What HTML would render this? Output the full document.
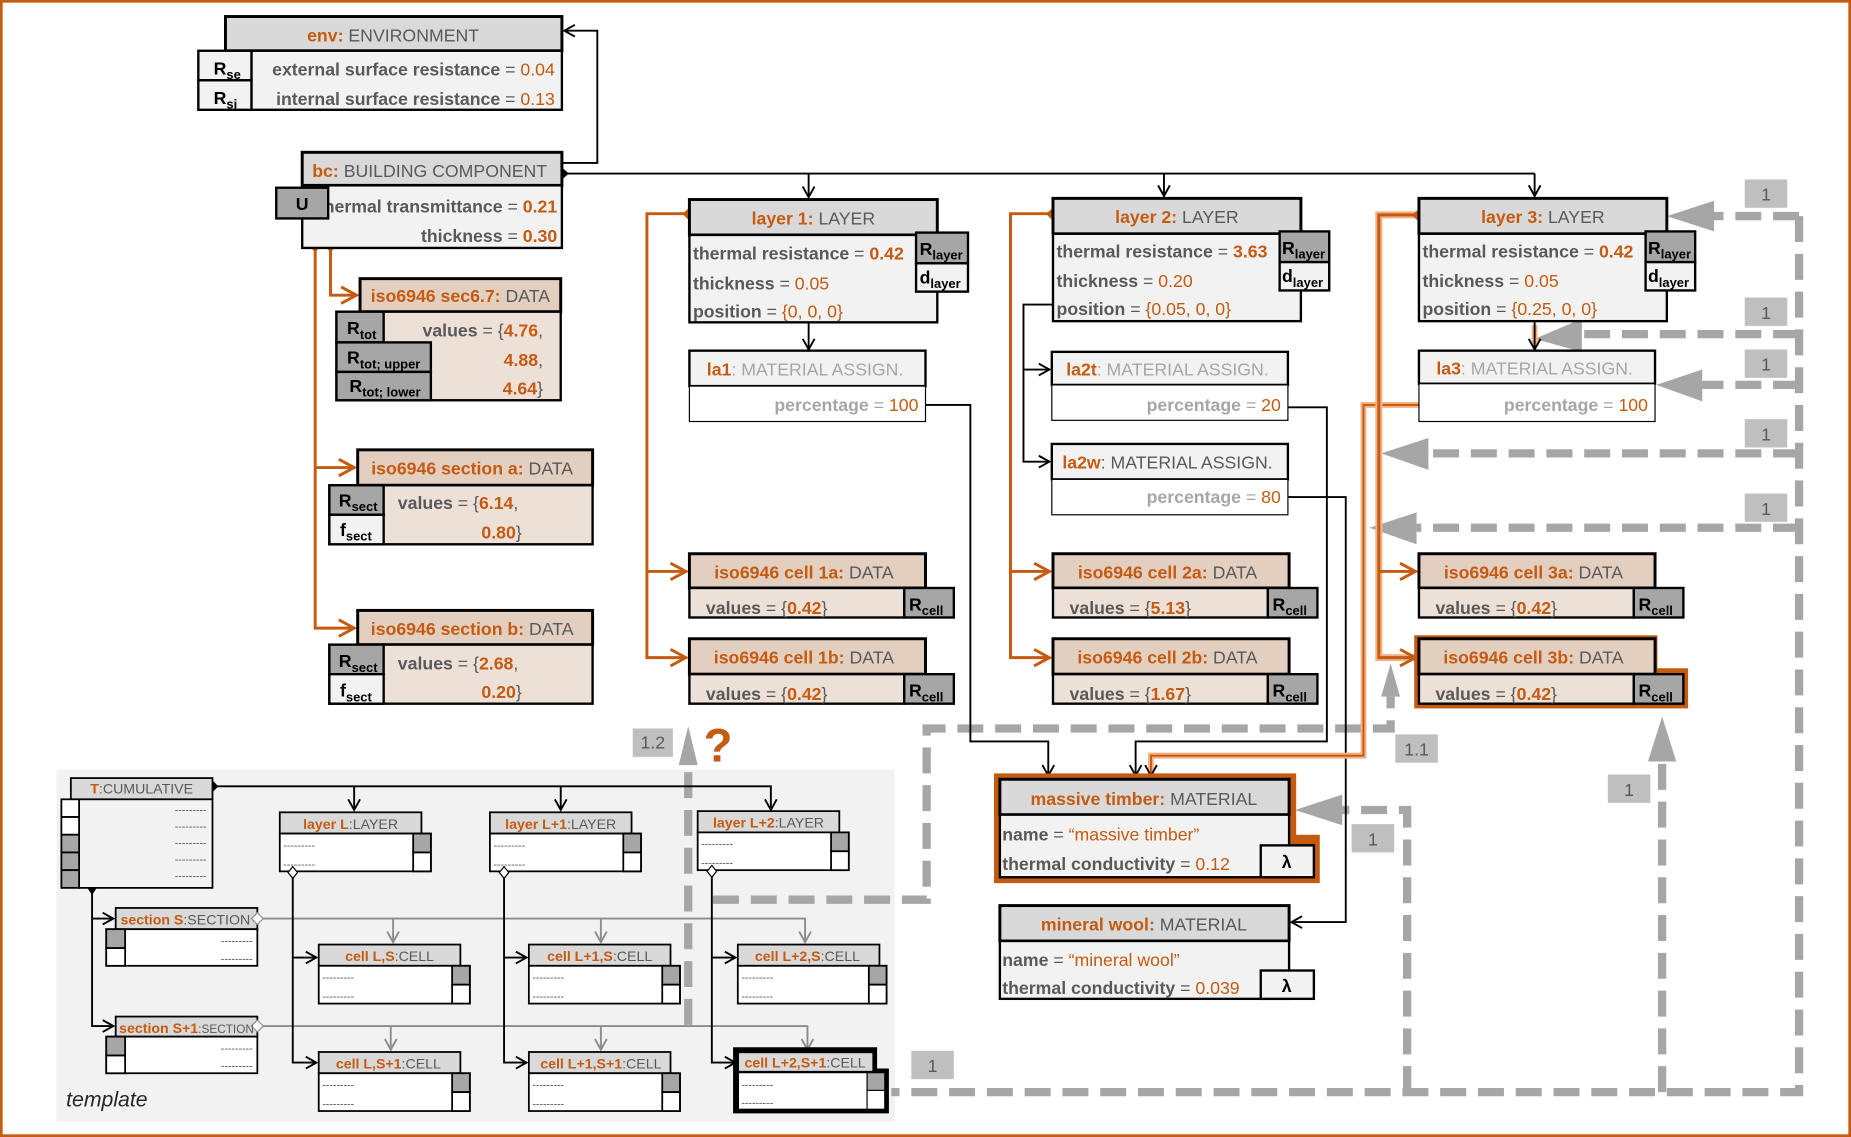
<!DOCTYPE html>
<html><head><meta charset="utf-8"><style>
html,body{margin:0;padding:0;background:#fff}
svg{display:block}
text{font-family:"Liberation Sans",sans-serif;font-size:15px;fill:#595959}
.o{fill:#c55a11}.bo{fill:#c55a11;font-weight:bold}.b{font-weight:bold}.k{fill:#000;font-weight:bold}.lg{fill:#a6a6a6}
.hd{fill:#d9d9d9;stroke:#000;stroke-width:2.5}
.bd{fill:#f2f2f2;stroke:#000;stroke-width:2}
.dh{fill:#e3cfc0;stroke:#000;stroke-width:2.5}
.db{fill:#ede0d7;stroke:#000;stroke-width:2}
.gb{fill:#a6a6a6;stroke:#000;stroke-width:2}
.wb{fill:#f2f2f2;stroke:#000;stroke-width:2}
.ln{fill:none;stroke:#000;stroke-width:1.6}
.gl{fill:none;stroke:#8c8c8c;stroke-width:1.6}
.ol{fill:none;stroke:#c55a11;stroke-width:2.5}
.dl{fill:none;stroke:#a6a6a6;stroke-width:7;stroke-dasharray:22 10}
.ga{fill:#a6a6a6}
.lb{fill:#bfbfbf}
.t{font-size:12px}
.s{font-size:11px}
</style></head><body>
<svg width="1851" height="1137" viewBox="0 0 1568 963" preserveAspectRatio="none" xmlns="http://www.w3.org/2000/svg">
<defs>
<marker id="ar" markerWidth="12" markerHeight="12" refX="10" refY="6" orient="auto" markerUnits="userSpaceOnUse"><path d="M1,1 L10,6 L1,11" fill="none" stroke="#000" stroke-width="1.6"/></marker>
<marker id="ag" markerWidth="12" markerHeight="12" refX="10" refY="6" orient="auto" markerUnits="userSpaceOnUse"><path d="M1,1 L10,6 L1,11" fill="none" stroke="#8c8c8c" stroke-width="1.6"/></marker>
<marker id="ao" markerWidth="16" markerHeight="16" refX="14" refY="8" orient="auto" markerUnits="userSpaceOnUse"><path d="M1,1 L14,8 L1,15" fill="none" stroke="#c55a11" stroke-width="2.5"/></marker>
</defs>
<rect x="1" y="1" width="1566" height="961" fill="none" stroke="#c55a11" stroke-width="2.5"/>

<!-- template background -->
<rect x="48" y="652" width="710" height="298" fill="#f2f2f2"/>

<!-- gray dashed connectors -->
<path class="dl" d="M1524,183 V925 H755"/>
<path class="dl" d="M1524,183 H1450"/><polygon class="ga" points="1412,183 1452,170 1452,196"/>
<path class="dl" d="M1524,283 H1340"/><polygon class="ga" points="1300,287 1340,270 1340,298"/>
<path class="dl" d="M1524,326 H1440"/><polygon class="ga" points="1403,326 1442,313 1442,340"/>
<path class="dl" d="M1524,384 H1210"/><polygon class="ga" points="1170,384 1210,371 1210,398"/>
<path class="dl" d="M1524,447 H1200"/><polygon class="ga" points="1160,447 1200,434 1200,461"/>
<path class="dl" d="M1408,925 V645"/><polygon class="ga" points="1408,607 1396,645 1420,645"/>
<path class="dl" d="M1192,925 V686 H1135"/><polygon class="ga" points="1097,686 1137,673 1137,699"/>
<path class="dl" d="M604,762 H785 V617 H1178 V590"/><polygon class="ga" points="1178,562 1170,590 1186,590"/>
<path class="dl" d="M583,868 V648"/><polygon class="ga" points="583,615 575,648 591,648"/>
<g>
<rect class="lb" x="1478" y="152" width="36" height="24"/><text x="1496" y="170" text-anchor="middle">1</text>
<rect class="lb" x="1478" y="252" width="36" height="24"/><text x="1496" y="270" text-anchor="middle">1</text>
<rect class="lb" x="1478" y="296" width="36" height="24"/><text x="1496" y="314" text-anchor="middle">1</text>
<rect class="lb" x="1478" y="355" width="36" height="24"/><text x="1496" y="373" text-anchor="middle">1</text>
<rect class="lb" x="1478" y="418" width="36" height="24"/><text x="1496" y="436" text-anchor="middle">1</text>
<rect class="lb" x="1145" y="698" width="36" height="24"/><text x="1163" y="716" text-anchor="middle">1</text>
<rect class="lb" x="1362" y="656" width="36" height="24"/><text x="1380" y="674" text-anchor="middle">1</text>
<rect class="lb" x="772" y="890" width="36" height="24"/><text x="790" y="908" text-anchor="middle">1</text>
<rect class="lb" x="1182" y="622" width="36" height="24"/><text x="1200" y="640" text-anchor="middle">1.1</text>
<rect class="lb" x="536" y="617" width="34" height="24"/><text x="553" y="634" text-anchor="middle">1.2</text>
<text x="596" y="645" style="font-size:40px;font-weight:bold;fill:#c55a11">?</text>
</g>

<!-- black connectors -->
<path class="ln" d="M476,138 H506 V26 H478" marker-end="url(#ar)"/>
<path class="ln" d="M478,147 H1300"/>
<path class="ln" d="M685,147 V167" marker-end="url(#ar)"/>
<path class="ln" d="M986,147 V166" marker-end="url(#ar)"/>
<path class="ln" d="M1300,147 V166" marker-end="url(#ar)"/>
<polygon points="470,147 476,142 482,147 476,152" fill="#000"/>
<path class="ln" d="M685,273 V296" marker-end="url(#ar)"/>
<path d="M1300,275 V292" fill="none" stroke="#f4b183" stroke-width="5"/>
<path class="ln" d="M1300,273 V296" marker-end="url(#ar)"/>
<path class="ln" d="M892,258 H867 V391 H889" marker-end="url(#ar)"/>
<path class="ln" d="M867,313 H889" marker-end="url(#ar)"/>
<path class="ln" d="M784,343 H822 V628 H888 V657" marker-end="url(#ar)"/>
<path class="ln" d="M1091,345 H1124 V628 H962 V657" marker-end="url(#ar)"/>
<path class="ln" d="M1091,421 H1140 V781 H1094" marker-end="url(#ar)"/>
<path d="M1202,343 H1155 V640 H975 V657" fill="none" stroke="#f4b183" stroke-width="5"/>
<path class="ln" d="M1202,343 H1155 V640 H975 V657" marker-end="url(#ar)" style="stroke:#c55a11"/>

<!-- orange connectors -->
<path class="ol" d="M280,208 V250 H302" marker-end="url(#ao)"/>
<path class="ol" d="M267,208 V532 H300" marker-end="url(#ao)"/>
<path class="ol" d="M267,396 H300" marker-end="url(#ao)"/>
<polygon points="267,202 272,208 267,214 262,208" fill="#c55a11"/>
<polygon points="280,202 285,208 280,214 275,208" fill="#c55a11"/>
<path class="ol" d="M584,181 H548 V557 H581" marker-end="url(#ao)"/>
<path class="ol" d="M548,484 H581" marker-end="url(#ao)"/>
<path class="ol" d="M892,181 H856 V557 H889" marker-end="url(#ao)"/>
<path class="ol" d="M856,484 H889" marker-end="url(#ao)"/>
<path d="M1202,182 H1168 V557 H1199" fill="none" stroke="#f4b183" stroke-width="6"/>
<path class="ol" d="M1202,182 H1168 V557 H1199" marker-end="url(#ao)"/>
<path class="ol" d="M1168,484 H1199" marker-end="url(#ao)"/>
<polygon points="584,176 590,181 584,187 578,181" fill="#c55a11"/>
<polygon points="892,176 898,181 892,187 886,181" fill="#c55a11"/>
<polygon points="1202,177 1208,182 1202,188 1196,182" fill="#c55a11"/>

<!-- env -->
<rect class="hd" x="191" y="14" width="285" height="29"/>
<text x="333" y="35" text-anchor="middle"><tspan class="bo">env:</tspan> ENVIRONMENT</text>
<rect class="bd" x="213" y="43" width="263" height="50"/>
<rect class="wb" x="168" y="43" width="45" height="25"/><rect class="wb" x="168" y="68" width="45" height="25"/>
<text x="181" y="63" class="k">R<tspan dy="4" class="s">se</tspan></text>
<text x="181" y="88" class="k">R<tspan dy="4" class="s">si</tspan></text>
<text x="470" y="64" text-anchor="end"><tspan class="b">external surface resistance</tspan> = <tspan class="o">0.04</tspan></text>
<text x="470" y="89" text-anchor="end"><tspan class="b">internal surface resistance</tspan> = <tspan class="o">0.13</tspan></text>

<!-- bc -->
<rect class="hd" x="256" y="129" width="220" height="28"/>
<text x="364" y="150" text-anchor="middle"><tspan class="bo">bc:</tspan> BUILDING COMPONENT</text>
<rect class="bd" x="256" y="157" width="220" height="53"/>
<text x="472" y="180" text-anchor="end"><tspan class="b">thermal transmittance</tspan> = <tspan class="bo">0.21</tspan></text>
<text x="472" y="205" text-anchor="end"><tspan class="b">thickness</tspan> = <tspan class="bo">0.30</tspan></text>
<rect class="gb" x="234" y="159" width="44" height="26"/>
<text x="256" y="178" text-anchor="middle" class="k">U</text>

<!-- sec6.7 -->
<rect class="dh" x="305" y="236" width="170" height="28"/>
<text x="390" y="256" text-anchor="middle"><tspan class="bo">iso6946 sec6.7:</tspan> DATA</text>
<rect class="db" x="285" y="264" width="190" height="75"/>
<rect class="gb" x="285" y="264" width="40" height="26"/><rect class="gb" x="285" y="290" width="80" height="25"/><rect class="gb" x="285" y="315" width="80" height="24"/>
<text x="294" y="283" class="k">R<tspan dy="4" class="s">tot</tspan></text>
<text x="294" y="308" class="k">R<tspan dy="4" class="s">tot; upper</tspan></text>
<text x="296" y="332" class="k">R<tspan dy="4" class="s">tot; lower</tspan></text>
<text x="460" y="285" text-anchor="end"><tspan class="b">values</tspan> = {<tspan class="bo">4.76</tspan>,</text>
<text x="460" y="310" text-anchor="end"><tspan class="bo">4.88</tspan>,</text>
<text x="460" y="334" text-anchor="end"><tspan class="bo">4.64</tspan>}</text>

<!-- section a -->
<rect class="dh" x="303" y="381" width="199" height="30"/>
<text x="400" y="402" text-anchor="middle"><tspan class="bo">iso6946 section a:</tspan> DATA</text>
<rect class="db" x="279" y="411" width="223" height="50"/>
<rect class="gb" x="279" y="411" width="46" height="25"/><rect class="wb" x="279" y="436" width="46" height="25"/>
<text x="287" y="429" class="k">R<tspan dy="4" class="s">sect</tspan></text>
<text x="288" y="454" class="k">f<tspan dy="4" class="s">sect</tspan></text>
<text x="337" y="431"><tspan class="b">values</tspan> = {<tspan class="bo">6.14</tspan>,</text>
<text x="442" y="456" text-anchor="end"><tspan class="bo">0.80</tspan>}</text>

<!-- section b -->
<rect class="dh" x="303" y="517" width="199" height="29"/>
<text x="400" y="538" text-anchor="middle"><tspan class="bo">iso6946 section b:</tspan> DATA</text>
<rect class="db" x="279" y="546" width="223" height="50"/>
<rect class="gb" x="279" y="546" width="46" height="25"/><rect class="wb" x="279" y="571" width="46" height="25"/>
<text x="287" y="565" class="k">R<tspan dy="4" class="s">sect</tspan></text>
<text x="288" y="590" class="k">f<tspan dy="4" class="s">sect</tspan></text>
<text x="337" y="567"><tspan class="b">values</tspan> = {<tspan class="bo">2.68</tspan>,</text>
<text x="442" y="591" text-anchor="end"><tspan class="bo">0.20</tspan>}</text>

<!-- layer 1 -->
<rect class="hd" x="584" y="169" width="210" height="30"/>
<text x="689" y="190" text-anchor="middle"><tspan class="bo">layer 1:</tspan> LAYER</text>
<rect class="bd" x="584" y="199" width="210" height="74"/>
<text x="587" y="220"><tspan class="b">thermal resistance</tspan> = <tspan class="bo">0.42</tspan></text>
<text x="587" y="245"><tspan class="b">thickness</tspan> = <tspan class="o">0.05</tspan></text>
<text x="587" y="269"><tspan class="b">position</tspan>  = <tspan class="o">{0, 0, 0}</tspan></text>
<rect class="gb" x="776" y="197" width="44" height="26"/><rect class="wb" x="776" y="223" width="44" height="24"/>
<text x="779" y="216" class="k">R<tspan dy="4" class="s">layer</tspan></text>
<text x="779" y="240" class="k">d<tspan dy="4" class="s">layer</tspan></text>
<!-- la1 -->
<rect class="bd" x="584" y="297" width="200" height="30"/>
<text x="682" y="318" text-anchor="middle" class="lg"><tspan class="bo">la1</tspan><tspan class="lg">: MATERIAL ASSIGN.</tspan></text>
<rect x="584" y="327" width="200" height="30" fill="#fff" stroke="#000" stroke-width="1"/>
<text x="778" y="348" text-anchor="end"><tspan class="b lg">percentage</tspan><tspan class="lg"> = </tspan><tspan class="o">100</tspan></text>
<!-- cell 1a/1b -->
<rect class="dh" x="584" y="469" width="200" height="29"/>
<text x="681" y="490" text-anchor="middle"><tspan class="bo">iso6946 cell 1a:</tspan> DATA</text>
<rect class="db" x="584" y="498" width="182" height="25"/><rect class="gb" x="766" y="498" width="42" height="25"/>
<text x="598" y="520"><tspan class="b">values</tspan> = {<tspan class="bo">0.42</tspan>}</text>
<text x="770" y="517" class="k">R<tspan dy="4" class="s">cell</tspan></text>
<rect class="dh" x="584" y="541" width="200" height="30"/>
<text x="681" y="562" text-anchor="middle"><tspan class="bo">iso6946 cell 1b:</tspan> DATA</text>
<rect class="db" x="584" y="571" width="182" height="25"/><rect class="gb" x="766" y="571" width="42" height="25"/>
<text x="598" y="593"><tspan class="b">values</tspan> = {<tspan class="bo">0.42</tspan>}</text>
<text x="770" y="590" class="k">R<tspan dy="4" class="s">cell</tspan></text>

<!-- layer 2 -->
<rect class="hd" x="892" y="168" width="210" height="30"/>
<text x="997" y="189" text-anchor="middle"><tspan class="bo">layer 2:</tspan> LAYER</text>
<rect class="bd" x="892" y="198" width="210" height="74"/>
<text x="895" y="218"><tspan class="b">thermal resistance</tspan> = <tspan class="bo">3.63</tspan></text>
<text x="895" y="243"><tspan class="b">thickness</tspan> = <tspan class="o">0.20</tspan></text>
<text x="895" y="267"><tspan class="b">position</tspan>  = <tspan class="o">{0.05, 0, 0}</tspan></text>
<rect class="gb" x="1084" y="196" width="42" height="26"/><rect class="wb" x="1084" y="222" width="42" height="24"/>
<text x="1086" y="215" class="k">R<tspan dy="4" class="s">layer</tspan></text>
<text x="1086" y="239" class="k">d<tspan dy="4" class="s">layer</tspan></text>
<!-- la2t -->
<rect class="bd" x="891" y="298" width="200" height="28"/>
<text x="989" y="318" text-anchor="middle"><tspan class="bo">la2t</tspan><tspan class="lg">: MATERIAL ASSIGN.</tspan></text>
<rect x="891" y="326" width="200" height="30" fill="#fff" stroke="#000" stroke-width="1"/>
<text x="1085" y="348" text-anchor="end"><tspan class="b lg">percentage</tspan><tspan class="lg"> = </tspan><tspan class="o">20</tspan></text>
<!-- la2w -->
<rect class="bd" x="891" y="376" width="200" height="30"/>
<text x="989" y="397" text-anchor="middle"><tspan class="bo">la2w</tspan>: MATERIAL ASSIGN.</text>
<rect x="891" y="406" width="200" height="30" fill="#fff" stroke="#000" stroke-width="1"/>
<text x="1085" y="426" text-anchor="end"><tspan class="b lg">percentage</tspan><tspan class="lg"> = </tspan><tspan class="o">80</tspan></text>
<!-- cell 2a/2b -->
<rect class="dh" x="892" y="469" width="200" height="29"/>
<text x="989" y="490" text-anchor="middle"><tspan class="bo">iso6946 cell 2a:</tspan> DATA</text>
<rect class="db" x="892" y="498" width="182" height="25"/><rect class="gb" x="1074" y="498" width="42" height="25"/>
<text x="906" y="520"><tspan class="b">values</tspan> = {<tspan class="bo">5.13</tspan>}</text>
<text x="1078" y="517" class="k">R<tspan dy="4" class="s">cell</tspan></text>
<rect class="dh" x="892" y="541" width="200" height="30"/>
<text x="989" y="562" text-anchor="middle"><tspan class="bo">iso6946 cell 2b:</tspan> DATA</text>
<rect class="db" x="892" y="571" width="182" height="25"/><rect class="gb" x="1074" y="571" width="42" height="25"/>
<text x="906" y="593"><tspan class="b">values</tspan> = {<tspan class="bo">1.67</tspan>}</text>
<text x="1078" y="590" class="k">R<tspan dy="4" class="s">cell</tspan></text>

<!-- layer 3 -->
<rect class="hd" x="1202" y="168" width="210" height="30"/>
<text x="1307" y="189" text-anchor="middle"><tspan class="bo">layer 3:</tspan> LAYER</text>
<rect class="bd" x="1202" y="198" width="210" height="74"/>
<text x="1205" y="218"><tspan class="b">thermal resistance</tspan> = <tspan class="bo">0.42</tspan></text>
<text x="1205" y="243"><tspan class="b">thickness</tspan> = <tspan class="o">0.05</tspan></text>
<text x="1205" y="267"><tspan class="b">position</tspan>  = <tspan class="o">{0.25, 0, 0}</tspan></text>
<rect class="gb" x="1394" y="196" width="42" height="26"/><rect class="wb" x="1394" y="222" width="42" height="24"/>
<text x="1396" y="215" class="k">R<tspan dy="4" class="s">layer</tspan></text>
<text x="1396" y="239" class="k">d<tspan dy="4" class="s">layer</tspan></text>
<!-- la3 -->
<rect class="bd" x="1202" y="297" width="200" height="28"/>
<text x="1300" y="317" text-anchor="middle"><tspan class="bo">la3</tspan><tspan class="lg">: MATERIAL ASSIGN.</tspan></text>
<rect x="1202" y="325" width="200" height="32" fill="#fff" stroke="#000" stroke-width="1"/>
<text x="1396" y="348" text-anchor="end"><tspan class="b lg">percentage</tspan><tspan class="lg"> = </tspan><tspan class="o">100</tspan></text>
<!-- cell 3a/3b -->
<rect class="dh" x="1202" y="469" width="200" height="29"/>
<text x="1299" y="490" text-anchor="middle"><tspan class="bo">iso6946 cell 3a:</tspan> DATA</text>
<rect class="db" x="1202" y="498" width="182" height="25"/><rect class="gb" x="1384" y="498" width="42" height="25"/>
<text x="1216" y="520"><tspan class="b">values</tspan> = {<tspan class="bo">0.42</tspan>}</text>
<text x="1388" y="517" class="k">R<tspan dy="4" class="s">cell</tspan></text>
<path d="M1198,538 H1404 V566 H1430 V600 H1198 Z" fill="#c55a11"/>
<rect class="dh" x="1202" y="541" width="200" height="30"/>
<text x="1299" y="562" text-anchor="middle"><tspan class="bo">iso6946 cell 3b:</tspan> DATA</text>
<rect class="db" x="1202" y="571" width="182" height="25"/><rect class="gb" x="1384" y="571" width="42" height="25"/>
<text x="1216" y="593"><tspan class="b">values</tspan> = {<tspan class="bo">0.42</tspan>}</text>
<text x="1388" y="590" class="k">R<tspan dy="4" class="s">cell</tspan></text>

<!-- massive timber -->
<path d="M842,655 H1098 V707 H1118 V748 H842 Z" fill="#c55a11"/>
<rect class="hd" x="847" y="660" width="245" height="30"/>
<text x="969" y="682" text-anchor="middle"><tspan class="bo">massive timber:</tspan> MATERIAL</text>
<rect class="bd" x="847" y="690" width="245" height="53"/>
<text x="849" y="712"><tspan class="b">name</tspan> = <tspan class="o">“massive timber”</tspan></text>
<text x="849" y="737"><tspan class="b">thermal conductivity</tspan> = <tspan class="o">0.12</tspan></text>
<rect class="wb" x="1068" y="716" width="45" height="27"/>
<text x="1090" y="735" text-anchor="middle" class="k">λ</text>
<!-- mineral wool -->
<rect class="hd" x="847" y="767" width="245" height="30"/>
<text x="969" y="788" text-anchor="middle"><tspan class="bo">mineral wool:</tspan> MATERIAL</text>
<rect class="bd" x="847" y="797" width="245" height="49"/>
<text x="849" y="818"><tspan class="b">name</tspan> = <tspan class="o">“mineral wool”</tspan></text>
<text x="849" y="842"><tspan class="b">thermal conductivity</tspan> = <tspan class="o">0.039</tspan></text>
<rect class="wb" x="1068" y="822" width="45" height="24"/>
<text x="1090" y="840" text-anchor="middle" class="k">λ</text>

<!-- TEMPLATE -->
<path class="ln" d="M180,666 H653 V686" marker-end="url(#ar)"/>
<path class="ln" d="M300,666 V686" marker-end="url(#ar)"/>
<path class="ln" d="M475,666 V686" marker-end="url(#ar)"/>
<polygon points="175,666 180,661 185,666 180,671" fill="#000"/>
<path class="ln" d="M78,752 V869 H96" marker-end="url(#ar)"/>
<path class="ln" d="M78,778 H96" marker-end="url(#ar)"/>
<polygon points="78,746 82,752 78,758 74,752" fill="#000"/>
<path class="gl" d="M222,778 H682 V798" marker-end="url(#ag)"/>
<path class="gl" d="M333,778 V798" marker-end="url(#ag)"/><path class="gl" d="M509,778 V798" marker-end="url(#ag)"/>
<path class="gl" d="M222,869 H684 V889" marker-end="url(#ag)"/>
<path class="gl" d="M331,869 V889" marker-end="url(#ag)"/><path class="gl" d="M509,869 V889" marker-end="url(#ag)"/>
<path class="ln" d="M248,742 V900 H268" marker-end="url(#ar)"/><path class="ln" d="M248,811 H268" marker-end="url(#ar)"/>
<path class="ln" d="M427,742 V900 H446" marker-end="url(#ar)"/><path class="ln" d="M427,811 H446" marker-end="url(#ar)"/>
<path class="ln" d="M603,742 V900 H623" marker-end="url(#ar)"/><path class="ln" d="M603,811 H623" marker-end="url(#ar)"/>

<g stroke="#000" stroke-width="1.5">
<!-- T -->
<rect x="60" y="659" width="120" height="18" fill="#d9d9d9"/>
<rect x="67" y="677" width="113" height="75" fill="#f2f2f2"/>
<rect x="52" y="677" width="15" height="15" fill="#fff"/><rect x="52" y="692" width="15" height="15" fill="#fff"/>
<rect x="52" y="707" width="15" height="15" fill="#a6a6a6"/><rect x="52" y="722" width="15" height="15" fill="#a6a6a6"/><rect x="52" y="737" width="15" height="15" fill="#a6a6a6"/>
<!-- layers -->
<rect x="237" y="688" width="120" height="18" fill="#d9d9d9"/><rect x="237" y="706" width="128" height="32" fill="#fff"/><rect x="350" y="706" width="15" height="16" fill="#a6a6a6"/><rect x="350" y="722" width="15" height="16" fill="#fff"/>
<rect x="415" y="688" width="120" height="18" fill="#d9d9d9"/><rect x="415" y="706" width="128" height="32" fill="#fff"/><rect x="528" y="706" width="15" height="16" fill="#a6a6a6"/><rect x="528" y="722" width="15" height="16" fill="#fff"/>
<rect x="591" y="687" width="120" height="18" fill="#d9d9d9"/><rect x="591" y="705" width="128" height="32" fill="#fff"/><rect x="704" y="705" width="15" height="16" fill="#a6a6a6"/><rect x="704" y="721" width="15" height="16" fill="#fff"/>
<!-- sections -->
<rect x="98" y="769" width="120" height="18" fill="#d9d9d9"/><rect x="90" y="787" width="128" height="31" fill="#fff"/><rect x="90" y="787" width="16" height="16" fill="#a6a6a6"/><rect x="90" y="803" width="16" height="15" fill="#fff"/>
<rect x="98" y="861" width="120" height="17" fill="#d9d9d9"/><rect x="90" y="878" width="128" height="31" fill="#fff"/><rect x="90" y="878" width="16" height="16" fill="#a6a6a6"/><rect x="90" y="894" width="16" height="15" fill="#fff"/>
<!-- cells S -->
<rect x="270" y="800" width="120" height="18" fill="#d9d9d9"/><rect x="270" y="818" width="128" height="32" fill="#fff"/><rect x="383" y="818" width="15" height="16" fill="#a6a6a6"/><rect x="383" y="834" width="15" height="16" fill="#fff"/>
<rect x="448" y="800" width="120" height="18" fill="#d9d9d9"/><rect x="448" y="818" width="128" height="32" fill="#fff"/><rect x="561" y="818" width="15" height="16" fill="#a6a6a6"/><rect x="561" y="834" width="15" height="16" fill="#fff"/>
<rect x="625" y="800" width="120" height="18" fill="#d9d9d9"/><rect x="625" y="818" width="126" height="32" fill="#fff"/><rect x="736" y="818" width="15" height="16" fill="#a6a6a6"/><rect x="736" y="834" width="15" height="16" fill="#fff"/>
<!-- cells S+1 -->
<rect x="270" y="891" width="120" height="18" fill="#d9d9d9"/><rect x="270" y="909" width="128" height="32" fill="#fff"/><rect x="383" y="909" width="15" height="16" fill="#a6a6a6"/><rect x="383" y="925" width="15" height="16" fill="#fff"/>
<rect x="448" y="891" width="120" height="18" fill="#d9d9d9"/><rect x="448" y="909" width="128" height="32" fill="#fff"/><rect x="561" y="909" width="15" height="16" fill="#a6a6a6"/><rect x="561" y="925" width="15" height="16" fill="#fff"/>
</g>
<path d="M621,887 H743 V905 H753 V943 H621 Z" fill="#000"/>
<rect x="626" y="892" width="113" height="15" fill="#d9d9d9"/>
<rect x="626" y="909" width="108" height="30" fill="#fff"/>
<rect x="735" y="909" width="14" height="14" fill="#a6a6a6"/><rect x="735" y="924" width="14" height="15" fill="#fff"/>
<polygon points="248,734 252,739 248,744 244,739" fill="#fff" stroke="#000"/>
<polygon points="427,734 431,739 427,744 423,739" fill="#fff" stroke="#000"/>
<polygon points="603,733 607,738 603,743 599,738" fill="#fff" stroke="#000"/>
<polygon points="218,773 223,778 218,783 213,778" fill="#fff" stroke="#8c8c8c"/>
<polygon points="218,864 223,869 218,874 213,869" fill="#fff" stroke="#8c8c8c"/>

<g class="t">
<text x="120" y="672" text-anchor="middle" class="t"><tspan class="bo">T</tspan>:CUMULATIVE</text>
<text x="297" y="702" text-anchor="middle" class="t"><tspan class="bo">layer L</tspan>:LAYER</text>
<text x="475" y="702" text-anchor="middle" class="t"><tspan class="bo">layer L+1</tspan>:LAYER</text>
<text x="651" y="701" text-anchor="middle" class="t"><tspan class="bo">layer L+2</tspan>:LAYER</text>
<text x="157" y="783" text-anchor="middle" class="t"><tspan class="bo">section S</tspan>:SECTION</text>
<text x="158" y="875" text-anchor="middle" class="t"><tspan class="bo">section S+1</tspan><tspan style="font-size:10px">:SECTION</tspan></text>
<text x="330" y="814" text-anchor="middle" class="t"><tspan class="bo">cell L,S</tspan>:CELL</text>
<text x="508" y="814" text-anchor="middle" class="t"><tspan class="bo">cell L+1,S</tspan>:CELL</text>
<text x="684" y="814" text-anchor="middle" class="t"><tspan class="bo">cell L+2,S</tspan>:CELL</text>
<text x="329" y="905" text-anchor="middle" class="t"><tspan class="bo">cell L,S+1</tspan>:CELL</text>
<text x="509" y="905" text-anchor="middle" class="t"><tspan class="bo">cell L+1,S+1</tspan>:CELL</text>
<text x="682" y="904" text-anchor="middle" class="t"><tspan class="bo">cell L+2,S+1</tspan>:CELL</text>
</g>
<g style="font-size:9px" fill="#595959">
<text x="175" y="689" text-anchor="end" style="font-size:9px">---------</text>
<text x="175" y="703" text-anchor="end" style="font-size:9px">---------</text>
<text x="175" y="717" text-anchor="end" style="font-size:9px">---------</text>
<text x="175" y="731" text-anchor="end" style="font-size:9px">---------</text>
<text x="175" y="745" text-anchor="end" style="font-size:9px">---------</text>
<text x="240" y="719" style="font-size:9px">---------</text><text x="240" y="735" style="font-size:9px">---------</text>
<text x="418" y="719" style="font-size:9px">---------</text><text x="418" y="735" style="font-size:9px">---------</text>
<text x="594" y="718" style="font-size:9px">---------</text><text x="594" y="734" style="font-size:9px">---------</text>
<text x="214" y="800" text-anchor="end" style="font-size:9px">---------</text><text x="214" y="815" text-anchor="end" style="font-size:9px">---------</text>
<text x="214" y="891" text-anchor="end" style="font-size:9px">---------</text><text x="214" y="906" text-anchor="end" style="font-size:9px">---------</text>
<text x="273" y="831" style="font-size:9px">---------</text><text x="273" y="847" style="font-size:9px">---------</text>
<text x="451" y="831" style="font-size:9px">---------</text><text x="451" y="847" style="font-size:9px">---------</text>
<text x="628" y="831" style="font-size:9px">---------</text><text x="628" y="847" style="font-size:9px">---------</text>
<text x="273" y="922" style="font-size:9px">---------</text><text x="273" y="938" style="font-size:9px">---------</text>
<text x="451" y="922" style="font-size:9px">---------</text><text x="451" y="938" style="font-size:9px">---------</text>
<text x="628" y="922" style="font-size:9px">---------</text><text x="628" y="937" style="font-size:9px">---------</text>
</g>
<text x="56" y="937" style="font-size:18px;font-style:italic;fill:#262626">template</text>
</svg>
</body></html>
